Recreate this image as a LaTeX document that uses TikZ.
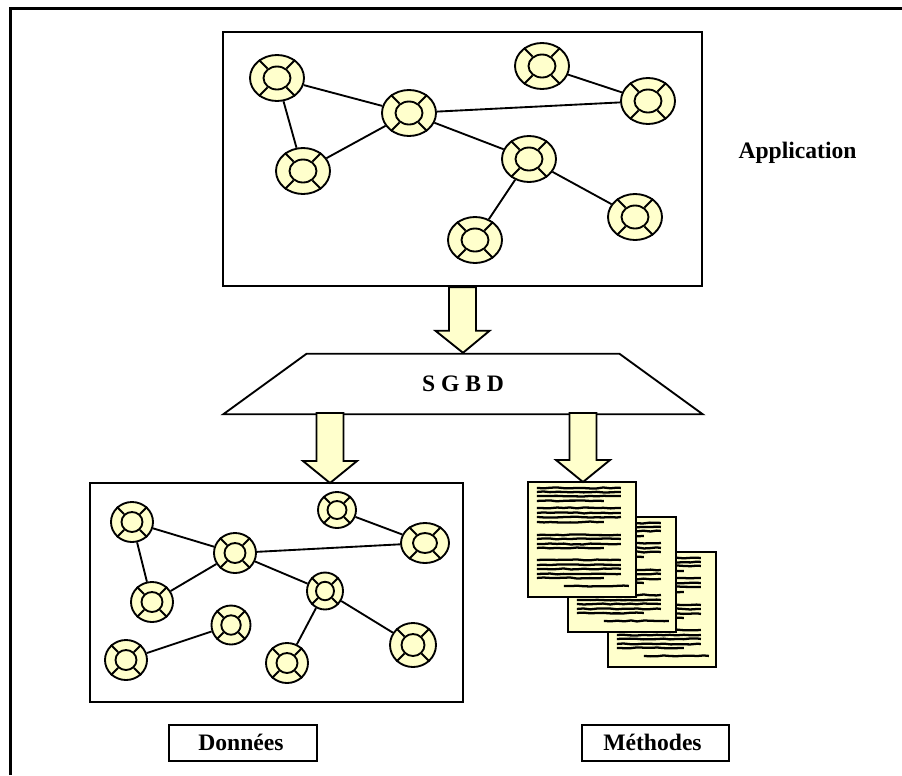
\documentclass[tikz,border=0pt]{standalone}
\usepackage{fontspec}
\setmainfont{Liberation Serif}
\usetikzlibrary{calc}
\usetikzlibrary{shapes.geometric}
\usetikzlibrary{decorations.pathmorphing}
\definecolor{paleyellow}{HTML}{FFFFCC}
\newcommand{\px}{0.75pt}
\tikzset{
    framebox/.style={draw, line width=1.6pt, inner sep=0pt},
    namebox/.style={draw, line width=1.6pt, inner sep=0pt, minimum height=36*\px, font=\labelfont},
    sitering/.style={draw, ellipse, fill=paleyellow, line width=1.4pt, inner sep=0pt},
    link/.style={line width=1.4pt},
    flowarrow/.style={draw, fill=paleyellow, line width=1.4pt, line join=miter},
    sheet/.style={draw, fill=paleyellow, line width=1.6pt, inner sep=0pt, minimum width=108*\px, minimum height=115*\px},
    scribble/.style={line width=1.7pt, decorate, decoration={random steps, segment length=5pt, amplitude=0.4pt}},
}
\newcommand{\labelfont}{\fontsize{17.7}{20}\selectfont\bfseries}
% name, x, y, width, height
\newcommand{\site}[5]{
    \node[sitering, minimum width=#4*\px, minimum height=#5*\px] (#1) at (#2,#3) {};
    \node[sitering, minimum width=#4*0.5*\px, minimum height=#5*0.5*\px] (#1c) at (#1) {};
    \foreach \ang in {45,135,225,315} {
        \draw[link] (#1c.\ang) -- (#1.\ang);
    }
}
\newcommand{\flow}[2]{
    \draw[flowarrow] let \p1=(#1), \p2=(#2) in
        (\x1-10.1pt,\y1) -- (\x1+10.1pt,\y1) -- (\x1+10.1pt,\y2+16.5pt) -- (\x1+20.25pt,\y2+16.5pt)
        -- (\x2,\y2) -- (\x1-20.25pt,\y2+16.5pt) -- (\x1-10.1pt,\y2+16.5pt) -- cycle;
}
\newcommand{\sheetlines}[1]{
    \foreach \ya/\xa/\xb in {7/10/94,11/10/94,15/10/94,20/10/77,27/10/94,32/10/94,36/10/94,41/10/77,
        54/10/94,58/10/94,63/10/94,67/10/77,79/10/94,84/10/94,88/10/94,93/10/94,97/10/77,105/37/102} {
        \draw[scribble] ([shift={(\xa,\ya)}]#1.north west) -- ([shift={(\xb,\ya)}]#1.north west);
    }
}

\begin{document}
\begin{tikzpicture}[x=0.75pt, y=-0.75pt]
    \useasboundingbox (0,0) rectangle (902,775);
    \draw[line width=1.6pt] (10.5,775) -- (10.5,8.5) -- (902,8.5);

    % application
    \node[framebox, minimum width=479*\px, minimum height=254*\px] (appbox) at (462.5,159) {};
    \site{a1}{277}{78}{54}{46}
    \site{a2}{409}{113}{54}{46}
    \site{a3}{303}{171}{54}{46}
    \site{a4}{542}{66}{54}{46}
    \site{a5}{648}{101}{54}{46}
    \site{a6}{529}{159}{54}{46}
    \site{a7}{635}{217}{54}{46}
    \site{a8}{475}{240}{54}{46}
    \draw[link] (a1) -- (a2);
    \draw[link] (a1) -- (a3);
    \draw[link] (a2) -- (a3);
    \draw[link] (a2) -- (a5);
    \draw[link] (a4) -- (a5);
    \draw[link] (a2) -- (a6);
    \draw[link] (a6) -- (a7);
    \draw[link] (a6) -- (a8);
    \node[font=\labelfont] (applabel) at (797.5,153) {Application};

    % sgbd
    \node[draw, trapezium, trapezium angle=36, line width=1.4pt, inner sep=0pt, minimum width=480*\px, minimum height=58*\px, font=\labelfont] (sgbd) at (463,384) {S G B D};
    \coordinate (sgbdleft) at (330,413);
    \coordinate (sgbdright) at (583,413);

    % donnees
    \node[framebox, minimum width=373*\px, minimum height=219*\px] (databox) at (276.5,592.5) {};
    \coordinate (datain) at (330,483);
    \site{d1}{132}{522}{42}{40}
    \site{d2}{235}{553}{42}{40}
    \site{d3}{152}{602}{42}{40}
    \site{d4}{337}{510}{38}{36}
    \site{d5}{425}{543}{48}{40}
    \site{d6}{325}{591}{36}{37}
    \site{d7}{413}{645}{46}{44}
    \site{d8}{231}{625}{39}{39}
    \site{d9}{126}{660}{42}{40}
    \site{d10}{287}{663}{42}{40}
    \draw[link] (d1) -- (d2);
    \draw[link] (d1) -- (d3);
    \draw[link] (d2) -- (d3);
    \draw[link] (d2) -- (d5);
    \draw[link] (d4) -- (d5);
    \draw[link] (d2) -- (d6);
    \draw[link] (d6) -- (d7);
    \draw[link] (d6) -- (d10);
    \draw[link] (d8) -- (d9);

    % methodes
    \node[sheet] (sheet3) at (662,609.5) {};
    \sheetlines{sheet3}
    \node[sheet] (sheet2) at (622,574.5) {};
    \sheetlines{sheet2}
    \node[sheet] (sheet1) at (582,539.5) {};
    \sheetlines{sheet1}
    \coordinate (sheetin) at (583,482);

    \flow{appbox.south}{sgbd.north}
    \flow{sgbdleft}{datain}
    \flow{sgbdright}{sheetin}

    \node[namebox, minimum width=148*\px] (datalabel) at (243,743) {\raisebox{1.5pt}{Données\hspace*{3pt}}};
    \node[namebox, minimum width=147*\px] (methlabel) at (655.5,743) {\raisebox{1.5pt}{Méthodes\hspace*{4.5pt}}};
\end{tikzpicture}
\end{document}
